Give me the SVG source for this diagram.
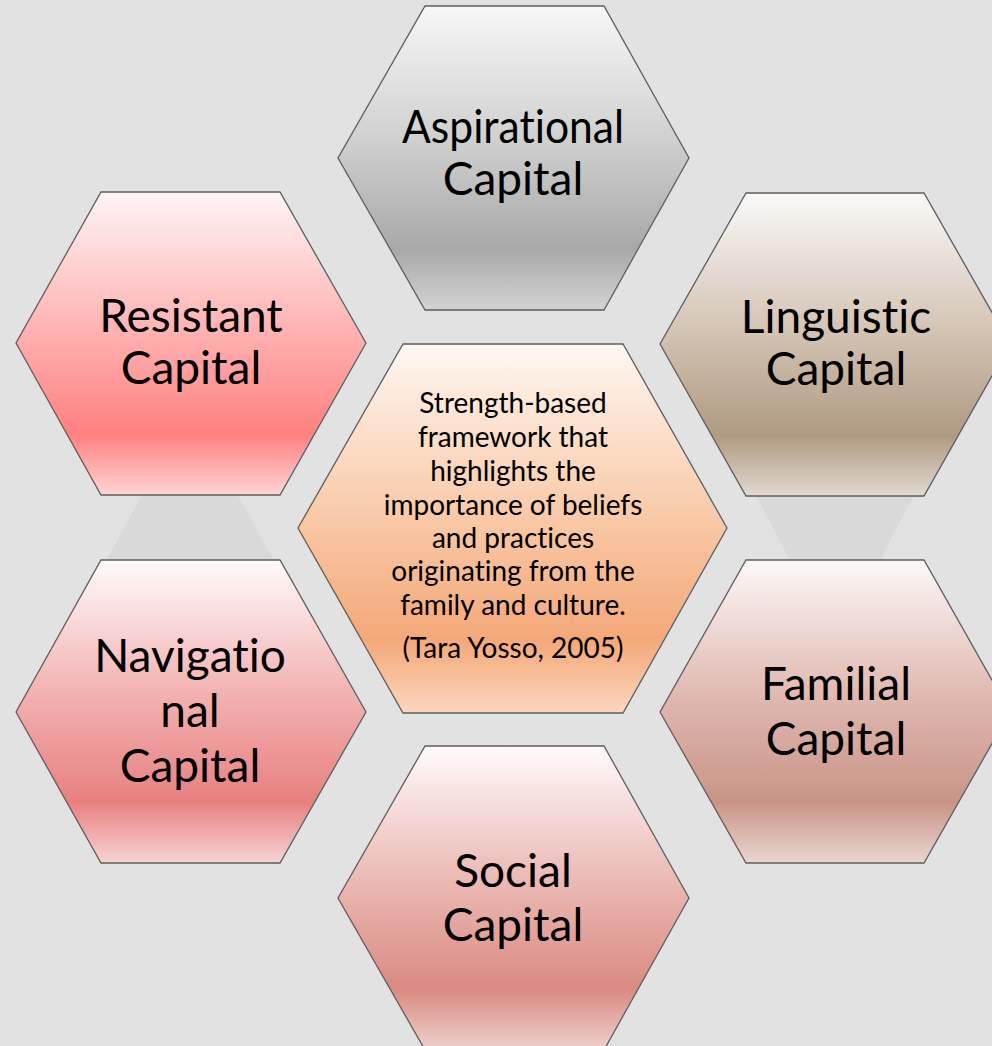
<svg xmlns="http://www.w3.org/2000/svg" width="992" height="1046" viewBox="0 0 992 1046">
<defs>
<linearGradient id="gAsp" x1="0" y1="0" x2="0" y2="1">
<stop offset="0" stop-color="#f7f7f7"/><stop offset="0.45" stop-color="#cfcfcf"/><stop offset="0.8" stop-color="#a8a8a8"/><stop offset="1" stop-color="#d4d4d4"/>
</linearGradient>
<linearGradient id="gRes" x1="0" y1="0" x2="0" y2="1">
<stop offset="0" stop-color="#fff4f4"/><stop offset="0.45" stop-color="#ffb3b3"/><stop offset="0.8" stop-color="#ff8080"/><stop offset="1" stop-color="#ffd4d4"/>
</linearGradient>
<linearGradient id="gLing" x1="0" y1="0" x2="0" y2="1">
<stop offset="0" stop-color="#faf9f8"/><stop offset="0.45" stop-color="#d4c4b4"/><stop offset="0.8" stop-color="#b09a82"/><stop offset="1" stop-color="#e2d9d0"/>
</linearGradient>
<linearGradient id="gNav" x1="0" y1="0" x2="0" y2="1">
<stop offset="0" stop-color="#fffafa"/><stop offset="0.45" stop-color="#f2b0b0"/><stop offset="0.8" stop-color="#e98080"/><stop offset="1" stop-color="#f6d4d4"/>
</linearGradient>
<linearGradient id="gFam" x1="0" y1="0" x2="0" y2="1">
<stop offset="0" stop-color="#fcf8f7"/><stop offset="0.45" stop-color="#e0b8b0"/><stop offset="0.8" stop-color="#c99488"/><stop offset="1" stop-color="#ead6d0"/>
</linearGradient>
<linearGradient id="gSoc" x1="0" y1="0" x2="0" y2="1">
<stop offset="0" stop-color="#fffafa"/><stop offset="0.45" stop-color="#ebb8b3"/><stop offset="0.8" stop-color="#da8a82"/><stop offset="1" stop-color="#f0d2ce"/>
</linearGradient>
<linearGradient id="gCen" x1="0" y1="0" x2="0" y2="1">
<stop offset="0" stop-color="#fff7f2"/><stop offset="0.45" stop-color="#f9cbaa"/><stop offset="0.8" stop-color="#f4a878"/><stop offset="1" stop-color="#fbd6bd"/>
</linearGradient>
</defs>
<style>
.hex{stroke:#5e5e5e;stroke-width:1.3;stroke-linejoin:miter}
.lbl{font-family:Lato,"Open Sans","Liberation Sans",sans-serif;font-size:46px;fill:#000;text-anchor:middle;font-variant-ligatures:none;font-feature-settings:"liga" 0}
.mid{font-family:Lato,"Open Sans","Liberation Sans",sans-serif;font-size:28px;fill:#000;text-anchor:middle;font-variant-ligatures:none;font-feature-settings:"liga" 0}
.bgtri{fill:#d9d9d9}
</style>
<rect x="0" y="0" width="992" height="1046" fill="#e2e2e2"/>
<g id="connectors">
<polygon class="bgtri" points="190,408 345,690 35,690"/>
<polygon class="bgtri" points="835,647 979,370 691,370"/>
</g>
<g id="aspirational">
<polygon class="hex" fill="url(#gAsp)" points="425,6 604,6 689,158 604,310 425,310 338,158"/>
<text class="lbl" x="513" y="143" textLength="222" lengthAdjust="spacingAndGlyphs">Aspirational</text>
<text class="lbl" x="513" y="195">Capital</text>
</g>
<g id="resistant">
<polygon class="hex" fill="url(#gRes)" points="101,192 280,192 366,343 280,495 101,495 16,343"/>
<text class="lbl" x="191" y="332">Resistant</text>
<text class="lbl" x="191" y="384">Capital</text>
</g>
<g id="linguistic">
<polygon class="hex" fill="url(#gLing)" points="746,193 924,193 1010,344 924,496 746,496 660,344"/>
<text class="lbl" x="836" y="333">Linguistic</text>
<text class="lbl" x="836" y="385">Capital</text>
</g>
<g id="navigational">
<polygon class="hex" fill="url(#gNav)" points="101,560 280,560 366,712 280,863 101,863 16,712"/>
<text class="lbl" x="190" y="672">Navigatio</text>
<text class="lbl" x="190" y="727">nal</text>
<text class="lbl" x="190" y="782">Capital</text>
</g>
<g id="familial">
<polygon class="hex" fill="url(#gFam)" points="746,560 924,560 1010,712 924,863 746,863 660,712"/>
<text class="lbl" x="836" y="700">Familial</text>
<text class="lbl" x="836" y="755">Capital</text>
</g>
<g id="social">
<polygon class="hex" fill="url(#gSoc)" points="425,746 604,746 689,898 604,1050 425,1050 338,898"/>
<text class="lbl" x="513" y="887">Social</text>
<text class="lbl" x="513" y="941">Capital</text>
</g>
<g id="center">
<polygon class="hex" fill="url(#gCen)" points="403,344 623,344 727,528 623,713 403,713 298,528"/>
<text class="mid" x="513" y="413">Strength-based</text>
<text class="mid" x="513" y="447">framework that</text>
<text class="mid" x="513" y="481">highlights the</text>
<text class="mid" x="513" y="515">importance of beliefs</text>
<text class="mid" x="513" y="548">and practices</text>
<text class="mid" x="513" y="581">originating from the</text>
<text class="mid" x="513" y="615">family and culture.</text>
<text class="mid" x="513" y="658">(Tara Yosso, 2005)</text>
</g>
</svg>
